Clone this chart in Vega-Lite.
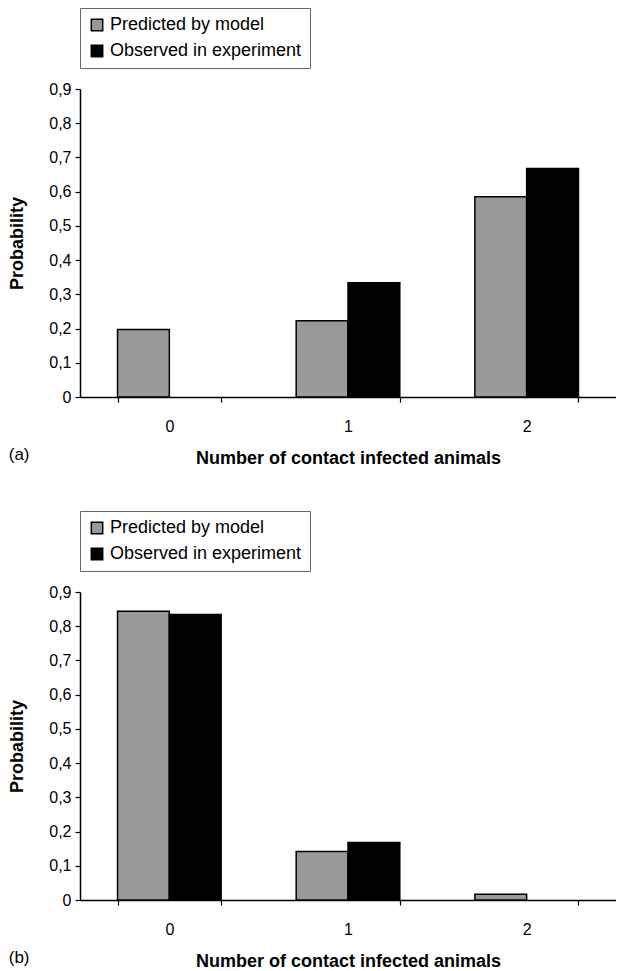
{
  "$schema": "https://vega.github.io/schema/vega-lite/v6.json",
  "padding": {"left": 8, "top": 7, "right": 0, "bottom": 0},
  "background": "white",
  "config": {
    "font": "Liberation Sans",
    "view": {"stroke": null},
    "concat": {"spacing": 43},
    "axis": {
      "labelFont": "Liberation Sans", "labelFontSize": 16, "labelColor": "#000",
      "titleFont": "Liberation Sans", "titleFontSize": 18, "titleFontWeight": "bold", "titleColor": "#000",
      "domainColor": "#000", "tickColor": "#000", "domainWidth": 1.5, "tickWidth": 1.2, "tickSize": 5, "grid": false
    },
    "legend": {
      "orient": "top", "direction": "vertical", "title": null,
      "strokeColor": "#666", "fillColor": "white", "padding": 8, "offset": 21,
      "symbolType": "square", "symbolSize": 130, "symbolStrokeColor": "#000", "symbolStrokeWidth": 1.5,
      "labelFont": "Liberation Sans", "labelFontSize": 18, "labelColor": "#000", "rowPadding": 8, "labelOffset": 4, "labelLimit": 0
    },
    "title": {"font": "Liberation Sans", "fontSize": 17, "fontWeight": "normal", "color": "#000"}
  },
  "datasets": {
    "a": [
      {"n": "0", "series": "Predicted by model", "p": 0.197},
      {"n": "1", "series": "Predicted by model", "p": 0.223},
      {"n": "1", "series": "Observed in experiment", "p": 0.334},
      {"n": "2", "series": "Predicted by model", "p": 0.585},
      {"n": "2", "series": "Observed in experiment", "p": 0.668}
    ],
    "b": [
      {"n": "0", "series": "Predicted by model", "p": 0.844},
      {"n": "0", "series": "Observed in experiment", "p": 0.834},
      {"n": "1", "series": "Predicted by model", "p": 0.142},
      {"n": "1", "series": "Observed in experiment", "p": 0.168},
      {"n": "2", "series": "Predicted by model", "p": 0.017}
    ]
  },
  "vconcat": [
    {
      "width": 536, "height": 308,
      "data": {"name": "a"},
      "title": {"text": "(a)", "orient": "bottom", "anchor": "start", "dx": 0, "offset": -20},
      "mark": {"type": "bar", "stroke": "#000", "strokeWidth": 1.5},
      "encoding": {
        "x": {"field": "n", "type": "ordinal", "scale": {"domain": ["0", "1", "2"], "paddingInner": 0.42, "paddingOuter": 0.21},
              "axis": {"title": "Number of contact infected animals", "labelAngle": 0, "tickBand": "extent", "labelPadding": 16, "titlePadding": 15}},
        "xOffset": {"field": "series", "type": "nominal", "sort": ["Predicted by model", "Observed in experiment"], "scale": {"domain": ["Predicted by model", "Observed in experiment"], "paddingInner": 0, "paddingOuter": 0}},
        "y": {"field": "p", "type": "quantitative", "scale": {"domain": [0, 0.9]},
              "axis": {"title": "Probability", "values": [0, 0.1, 0.2, 0.3, 0.4, 0.5, 0.6, 0.7, 0.8, 0.9], "labelExpr": "datum.value == 0 ? '0' : replace(format(datum.value, '.1f'), '.', ',')", "titlePadding": 22, "labelPadding": 4}},
        "color": {"field": "series", "type": "nominal", "sort": ["Predicted by model", "Observed in experiment"],
                  "scale": {"domain": ["Predicted by model", "Observed in experiment"], "range": ["#999999", "#000000"]}}
      }
    },
    {
      "width": 536, "height": 308,
      "data": {"name": "b"},
      "title": {"text": "(b)", "orient": "bottom", "anchor": "start", "dx": 0, "offset": -20},
      "mark": {"type": "bar", "stroke": "#000", "strokeWidth": 1.5},
      "encoding": {
        "x": {"field": "n", "type": "ordinal", "scale": {"domain": ["0", "1", "2"], "paddingInner": 0.42, "paddingOuter": 0.21},
              "axis": {"title": "Number of contact infected animals", "labelAngle": 0, "tickBand": "extent", "labelPadding": 16, "titlePadding": 15}},
        "xOffset": {"field": "series", "type": "nominal", "sort": ["Predicted by model", "Observed in experiment"], "scale": {"domain": ["Predicted by model", "Observed in experiment"], "paddingInner": 0, "paddingOuter": 0}},
        "y": {"field": "p", "type": "quantitative", "scale": {"domain": [0, 0.9]},
              "axis": {"title": "Probability", "values": [0, 0.1, 0.2, 0.3, 0.4, 0.5, 0.6, 0.7, 0.8, 0.9], "labelExpr": "datum.value == 0 ? '0' : replace(format(datum.value, '.1f'), '.', ',')", "titlePadding": 22, "labelPadding": 4}},
        "color": {"field": "series", "type": "nominal", "sort": ["Predicted by model", "Observed in experiment"],
                  "scale": {"domain": ["Predicted by model", "Observed in experiment"], "range": ["#999999", "#000000"]}}
      }
    }
  ],
  "resolve": {"legend": {"color": "independent"}}
}
